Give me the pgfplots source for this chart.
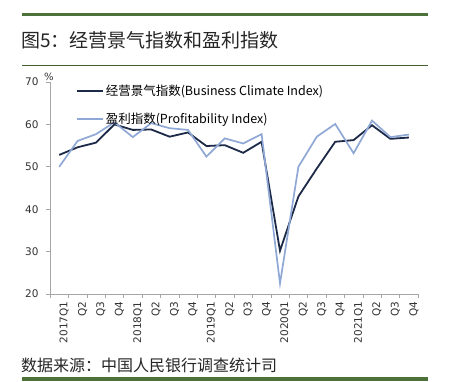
\documentclass[border=0pt]{standalone}
\usepackage{fontspec}
\usepackage{pgfplots}
\pgfplotsset{compat=1.18}
\setmainfont{Noto Sans CJK SC}
\newfontfamily\dvs{DejaVu Sans}
\definecolor{dark}{HTML}{1C2A48}
\definecolor{light}{HTML}{90A8D6}
\definecolor{grn}{HTML}{4C7239}
\definecolor{axgray}{HTML}{A6A6A6}
\begin{document}
\begin{tikzpicture}[x=1pt,y=1pt]
\useasboundingbox (0,0) rectangle (449,382);
\fill[white] (0,0) rectangle (449,382);
\draw[grn, line width=3pt] (22,367) -- (428,367);
\node[anchor=west, font=\fontsize{19}{21}\selectfont, text=black!85, inner sep=0pt] at (21,342) {图5：经营景气指数和盈利指数};
\draw[grn!85!black, line width=0.8pt] (22,317) -- (428,317);
\begin{axis}[at={(50pt,88pt)}, anchor=south west, scale only axis,
  width=368pt, height=212pt,
  xmin=0.5, xmax=20.5, ymin=20, ymax=70,
  ytick={20,30,...,70},
  axis x line*=bottom, axis y line*=left,
  axis line style={axgray, line width=0.8pt, -},
  xtick={1,...,20},
  xticklabels={2017Q1,Q2,Q3,Q4,2018Q1,Q2,Q3,Q4,2019Q1,Q2,Q3,Q4,2020Q1,Q2,Q3,Q4,2021Q1,Q2,Q3,Q4},
  x tick label style={rotate=90, anchor=east, yshift=-5pt, font=\dvs\fontsize{10.5}{12}\selectfont, text=black!80},
  major x tick style={draw=none},
  minor xtick={0.5,1.5,...,20.5},
  minor tick length=4pt, major tick length=4pt,
  minor tick style={axgray, line width=0.6pt},
  y tick style={axgray, line width=0.6pt},
  tick align=outside,
  yticklabel style={xshift=-4pt, font=\dvs\fontsize{10.5}{12}\selectfont, text=black!80},
  /pgf/number format/assume math mode=true,
  clip=false,
  legend style={at={(rel axis cs:0.07,0.995)}, anchor=north west, draw=none, fill=none,
    font=\fontsize{12.5}{14}\selectfont, row sep=12pt, inner sep=0pt},
  legend cell align=left,
  legend image code/.code={\draw[#1] (-2pt,0pt) -- (24pt,0pt);},
]
\addplot[dark, line width=1.8pt] coordinates {
(1,52.8) (2,54.6) (3,55.7) (4,60.0) (5,58.7) (6,58.8) (7,57.1) (8,58.1)
(9,54.9) (10,55.1) (11,53.3) (12,55.9) (13,30.2) (14,43.0) (15,49.6) (16,55.9)
(17,56.3) (18,59.8) (19,56.6) (20,56.9)};
\addlegendentry{经营景气指数(Business Climate Index)}
\addplot[light, line width=1.7pt] coordinates {
(1,50.0) (2,56.1) (3,57.7) (4,60.5) (5,57.0) (6,60.3) (7,59.1) (8,58.7)
(9,52.4) (10,56.7) (11,55.5) (12,57.7) (13,22.5) (14,50.0) (15,57.1) (16,60.1)
(17,53.2) (18,60.9) (19,57.0) (20,57.6)};
\addlegendentry{盈利指数(Profitability Index)}
\node[anchor=south, font=\dvs\fontsize{10}{12}\selectfont, text=black!80, inner sep=1pt] at ([xshift=-1pt]rel axis cs:0,1) {\%};
\end{axis}
\node[anchor=west, font=\fontsize{16}{18}\selectfont, text=black!85, inner sep=0pt] at (21,17) {数据来源：中国人民银行调查统计司};
\draw[grn, line width=4pt] (22,3) -- (428,3);
\end{tikzpicture}
\end{document}
